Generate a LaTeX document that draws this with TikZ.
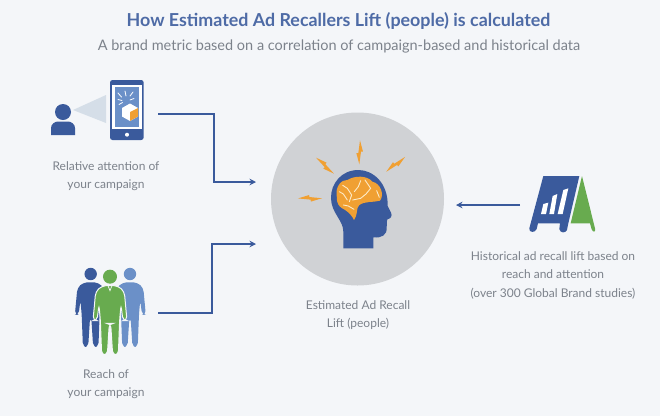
\documentclass[tikz,border=0pt]{standalone}
\usepackage{fontspec}
\usetikzlibrary{arrows.meta}
\setmainfont{Lato}
\definecolor{fbblue}{HTML}{3A5A9C}
\definecolor{midblue}{HTML}{6B90C8}
\definecolor{paleblue}{HTML}{D5DEE8}
\definecolor{fbgreen}{HTML}{68AB4F}
\definecolor{fborange}{HTML}{F0A033}
\definecolor{fbcream}{HTML}{FDEBC8}
\definecolor{fbgrey}{HTML}{D0D2D5}
\definecolor{fbback}{HTML}{F4F6F9}
\definecolor{fbtext}{HTML}{7C828B}
\tikzset{
  caption/.style={align=center,text=fbtext,font=\fontsize{12}{18.5}\selectfont},
  link/.style={->,draw=fbblue,line width=1.7pt},
  bolt/.style={fill=fborange},
}
\newcommand{\boltat}[3]{\fill[bolt,shift={(#1,#2)},rotate=#3] (1,-36)--(10,-2)--(4,-2)--(-1,36)--(-10,2)--(-4,2)--cycle;}
\newcommand{\figurepath}{(0,26) -- (25,28) -- (43,45) -- (51,132) -- (39,132) -- (33,85) -- (29,130) -- (25,235) -- (8,235) -- (2,140) -- (-2,140) -- (-8,235) -- (-25,235) -- (-29,130) -- (-33,85) -- (-39,132) -- (-51,132) -- (-43,45) -- (-25,28) -- cycle}
\begin{document}
\begin{tikzpicture}[>={Stealth[length=6.5pt,width=6.5pt]},x=1pt,y=-1pt]
    \useasboundingbox (0,0) rectangle (660,416);
    \fill[fbback] (0,0) rectangle (660,416);
    \node (title) at (338.5,21) {\fontsize{17.85}{20}\selectfont\bfseries\color{fbblue!90!white}How Estimated Ad Recallers Lift (people) is calculated};
    \node (subtitle) at (339,46) {\fontsize{14.5}{18}\selectfont\color{fbtext}A brand metric based on a correlation of campaign-based and historical data};
    % centre circle
    \node[circle,fill=fbgrey,minimum size=173pt,inner sep=0pt] (recall) at (357.5,199) {};
    \begin{scope}[shift={(260,120)},x=.3333pt,y=-.3333pt]
        \fill[fbblue] (250,385) -- (340,385) -- (340,352) .. controls (365,355) and (382,345) .. (380,322) .. controls (382,310) and (378,305) .. (382,298) .. controls (392,296) and (398,288) .. (393,278) -- (383,258) .. controls (385,190) and (340,150) .. (295,150) .. controls (245,150) and (212,190) .. (213,235) .. controls (214,280) and (250,300) .. (250,335) -- cycle;
        \fill[fborange] (230,225) .. controls (226,200) and (245,178) .. (262,180) .. controls (285,166) and (322,166) .. (337,185) .. controls (362,190) and (374,225) .. (360,242) .. controls (340,248) and (315,242) .. (297,256) .. controls (288,265) and (294,285) .. (282,300) .. controls (272,280) and (260,272) .. (245,264) .. controls (226,250) and (232,235) .. (230,225) -- cycle;
        \draw[fbcream,line width=.9pt,line cap=round,line join=round] (248,196) -- (262,205) -- (275,225) -- (268,245) (238,215) -- (250,222) -- (262,240) (302,182) -- (295,200) -- (283,215) (315,180) -- (332,205) -- (318,222) -- (302,235) -- (278,240) (250,255) -- (265,258) -- (282,268) (350,212) -- (358,232);
        \boltat{299}{97}{0}
        \boltat{195}{137}{50}
        \boltat{407}{133}{-50}
        \boltat{150}{235}{92}
    \end{scope}
    % attention icons
    \fill[paleblue] (73,110) -- (106,95) -- (106,123) -- cycle;
    \fill[fbblue] (63,112) circle (8);
    \fill[fbblue] (51,135) -- (51,128) .. controls (51,124) and (55,121.5) .. (58,121.5) -- (68,121.5) .. controls (71,121.5) and (75,124) .. (75,128) -- (75,135) -- cycle;
    \fill[fbblue,rounded corners=2.5pt] (110,80) rectangle (143.7,140);
    \fill[white] (112.3,84.5) rectangle (141.7,129);
    \fill[midblue] (115,87) rectangle (139,127);
    \fill[white] (127,134.7) circle (2);
    \fill[white] (122,108) -- (130,103.5) -- (138,108) -- (138,116.5) -- (130,121) -- (122,116.5) -- cycle;
    \fill[fborange] (130,112) -- (138,108) -- (138,116.5) -- (130,121) -- cycle;
    \draw[white,line width=.8pt,line cap=round] (125,91) -- (126,96) (118,93) -- (121.5,97) (118,99.5) -- (122,100.5) (119,104.5) -- (122.5,102.5) (133,92) -- (130,96) (134,98.5) -- (130,100);
    \node[caption] (attention) at (106,176) {Relative attention of\\your campaign};
    % people icons
    \begin{scope}[shift={(50,250)},x=.3333pt,y=-.3333pt]
        \begin{scope}[shift={(122,72)},scale=.93]
            \fill[fbblue] (0,0) circle (20);
            \fill[fbblue,rounded corners=4pt] \figurepath;
        \end{scope}
        \begin{scope}[shift={(240,72)},scale=.93]
            \fill[midblue] (0,0) circle (20);
            \fill[midblue,rounded corners=4pt] \figurepath;
        \end{scope}
        \begin{scope}[shift={(180,80)}]
            \fill[fbgreen] (0,0) circle (21);
            \filldraw[fill=fbgreen,draw=fbback,line width=1pt,rounded corners=4pt] \figurepath;
            \draw[fbback,line width=.7pt] (-6,27) -- (0,42) -- (6,27);
        \end{scope}
    \end{scope}
    \node[caption] (reach) at (106,384) {Reach of\\your campaign};
    % sign icon
    \begin{scope}[shift={(440,160)},x=.3333pt,y=-.3333pt]
        \fill[fbgreen] (426,48) -- (392,190) -- (450,190) -- (455,208) .. controls (460,220) and (468,215) .. (465,205) -- cycle;
        \fill[fbblue] (310,48) -- (418,48) -- (385,190) -- (381,210) .. controls (377,220) and (360,220) .. (358,207) -- (360,190) -- (294,190) -- (290,207) .. controls (285,220) and (266,218) .. (268,205) -- cycle;
        \fill[white] (310,132) -- (325,128) -- (318,162) -- (303,162) -- cycle;
        \fill[white] (338,108) -- (352,102) -- (342,162) -- (328,162) -- cycle;
        \fill[white] (370,90) -- (385,85) -- (368,162) -- (353,162) -- cycle;
    \end{scope}
    \node[caption] (history) at (553,275) {Historical ad recall lift based on\\reach and attention\\(over 300 Global Brand studies)};
    \node[caption] (result) at (358,315) {Estimated Ad Recall\\Lift (people)};
    % connectors
    \coordinate (attnstart) at (158,114);
    \coordinate (attnbend) at (214,114);
    \coordinate (attnkink) at (214,182);
    \coordinate (attnend) at (256,182);
    \coordinate (reachstart) at (158,313);
    \coordinate (reachbend) at (212,313);
    \coordinate (reachkink) at (212,244);
    \coordinate (reachend) at (256,244);
    \coordinate (histstart) at (520,205);
    \coordinate (histend) at (456,205);
    \draw[link] (attnstart) -- (attnbend) -- (attnkink) -- (attnend);
    \draw[link] (reachstart) -- (reachbend) -- (reachkink) -- (reachend);
    \draw[link] (histstart) -- (histend);
\end{tikzpicture}
\end{document}
